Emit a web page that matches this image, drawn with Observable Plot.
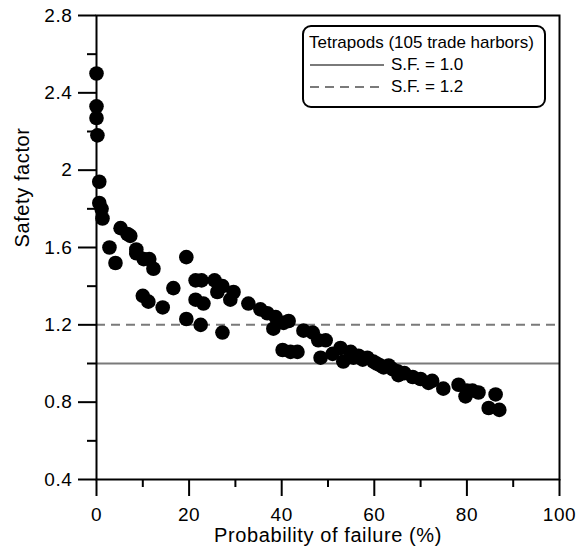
<!DOCTYPE html>
<html>
<head>
<meta charset="utf-8">
<script src="https://cdn.jsdelivr.net/npm/d3@7"></script>
<script src="https://cdn.jsdelivr.net/npm/@observablehq/plot@0.6"></script>
<style>
  html, body { margin: 0; padding: 0; background: #fff; }
  #wrap { position: relative; width: 584px; height: 552px; font-family: "Liberation Sans", Arial, sans-serif; }
  #legend {
    position: absolute; left: 302px; top: 25px; width: 244px; height: 83px;
    border: 2px solid #000; border-radius: 9px; background: #fff;
    font-size: 17px; color: #000; box-sizing: border-box;
  }
  #legend .row { position: absolute; left: 5px; white-space: nowrap; }
  #legend svg { position: absolute; left: 4px; }
</style>
</head>
<body>
<div id="wrap"></div>
<script>
// Data
const probFailure = [
  0, 0, 0, 0.2, 0.6, 0.6, 1.1, 1.3,
  5.2, 7.3, 2.8, 8.6, 4.1, 6.7, 8.6, 10.2, 11.4, 12.3,
  10.0, 11.2, 14.3, 16.6, 19.4, 19.4, 21.4, 22.7, 21.4, 23.1, 22.5,
  25.5, 26.1, 27.2, 27.2, 28.9, 29.6, 32.8, 35.4, 36.9, 38.2, 38.7,
  40.4, 41.5, 40.2, 41.9, 43.4, 44.7, 46.7, 47.9, 49.5, 48.4,
  51.0, 52.7, 53.3, 54.9, 55.5, 56.6, 57.5, 58.5, 59.8, 60.5, 61.3, 62.0,
  63.1, 64.0, 65.0, 65.2, 66.5, 68.3, 70.0, 71.7, 72.5, 74.9, 78.2, 79.7,
  80.0, 81.2, 82.5, 86.2, 84.7, 87.0
];
const safetyFactor = [
  2.50, 2.33, 2.27, 2.18, 1.94, 1.83, 1.80, 1.75,
  1.70, 1.66, 1.60, 1.59, 1.52, 1.67, 1.57, 1.54, 1.54, 1.49,
  1.35, 1.32, 1.29, 1.39, 1.55, 1.23, 1.43, 1.43, 1.33, 1.31, 1.20,
  1.43, 1.37, 1.40, 1.16, 1.33, 1.37, 1.31, 1.28, 1.26, 1.18, 1.24,
  1.21, 1.22, 1.07, 1.06, 1.06, 1.17, 1.16, 1.12, 1.12, 1.03,
  1.05, 1.08, 1.01, 1.06, 1.03, 1.04, 1.02, 1.03, 1.01, 1.00, 0.99, 0.98,
  0.99, 0.97, 0.96, 0.94, 0.95, 0.93, 0.92, 0.90, 0.91, 0.87, 0.89, 0.83,
  0.86, 0.86, 0.85, 0.84, 0.77, 0.76
];
const thresholdSolid = [1.0];
const thresholdDashed = [1.2];
const xMajorTicks = [0, 20, 40, 60, 80, 100];
const xMinorTicks = [10, 30, 50, 70, 90];
const yMajorTicks = [0.4, 0.8, 1.2, 1.6, 2.0, 2.4, 2.8];
const yMinorTicks = [0.6, 1.0, 1.4, 1.8, 2.2, 2.6];
const xLabel = "Probability of failure (%)";
const yLabel = "Safety factor";
const legendTitle = "Tetrapods (105 trade harbors)";
const legendItems = ["S.F. = 1.0", "S.F. = 1.2"];

const data = probFailure.map((x, i) => ({x, y: safetyFactor[i]}));
const fmtY = d => d === 2 ? "2" : d3.format(".1f")(d);

const W = 584, H = 552, mL = 96, mR = 25, mT = 15, mB = 73;
const innerW = W - mL - mR, innerH = H - mT - mB;

const chart = Plot.plot({
  width: W,
  height: H,
  marginLeft: mL,
  marginRight: mR,
  marginTop: mT,
  marginBottom: mB,
  style: {fontFamily: "Liberation Sans, Arial, sans-serif"},
  x: {domain: [0, 100]},
  y: {domain: [0.4, 2.8]},
  marks: [
    Plot.ruleY(thresholdSolid, {stroke: "#7a7a7a", strokeWidth: 2}),
    Plot.ruleY(thresholdDashed, {stroke: "#7a7a7a", strokeWidth: 2, strokeDasharray: "9,6"}),
    Plot.dot(data, {x: "x", y: "y", r: 7.3, fill: "#000", stroke: "none"}),
    // tick marks (outward)
    Plot.ruleX(xMajorTicks, {x: d => d, insetTop: innerH, insetBottom: -17, stroke: "#000", strokeWidth: 2}),
    Plot.ruleX(xMinorTicks, {x: d => d, insetTop: innerH, insetBottom: -8, stroke: "#000", strokeWidth: 2}),
    Plot.ruleY(yMajorTicks, {y: d => d, insetRight: innerW, insetLeft: -18, stroke: "#000", strokeWidth: 2}),
    Plot.ruleY(yMinorTicks, {y: d => d, insetRight: innerW, insetLeft: -9, stroke: "#000", strokeWidth: 2}),
    Plot.frame({stroke: "#000", strokeWidth: 2}),
    Plot.axisX(xMajorTicks, {tickSize: 0, tickPadding: 28, fontSize: 19, label: null, tickFormat: d => String(d)}),
    Plot.axisY(yMajorTicks, {tickSize: 0, tickPadding: 24, fontSize: 19, label: null, tickFormat: fmtY}),
    Plot.text([xLabel], {frameAnchor: "bottom", dy: 62, fontSize: 20, fill: "#000"}),
    Plot.text([yLabel], {frameAnchor: "left", dx: -74, rotate: -90, fontSize: 20, fill: "#000"})
  ]
});
chart.querySelectorAll("text").forEach(t => t.style.letterSpacing = "0.6px");

const wrap = document.getElementById("wrap");
wrap.appendChild(chart);

const legend = document.createElement("div");
legend.id = "legend";
legend.innerHTML = `
  <div class="row" style="top:6px">${legendTitle}</div>
  <svg width="80" height="72" style="top:0">
    <line x1="2" x2="76" y1="38" y2="38" stroke="#7a7a7a" stroke-width="2"></line>
    <line x1="2" x2="76" y1="60" y2="60" stroke="#7a7a7a" stroke-width="2" stroke-dasharray="9,6"></line>
  </svg>
  <div class="row" style="top:28px; left:87px">${legendItems[0]}</div>
  <div class="row" style="top:50px; left:87px">${legendItems[1]}</div>
`;
wrap.appendChild(legend);
</script>
</body>
</html>
